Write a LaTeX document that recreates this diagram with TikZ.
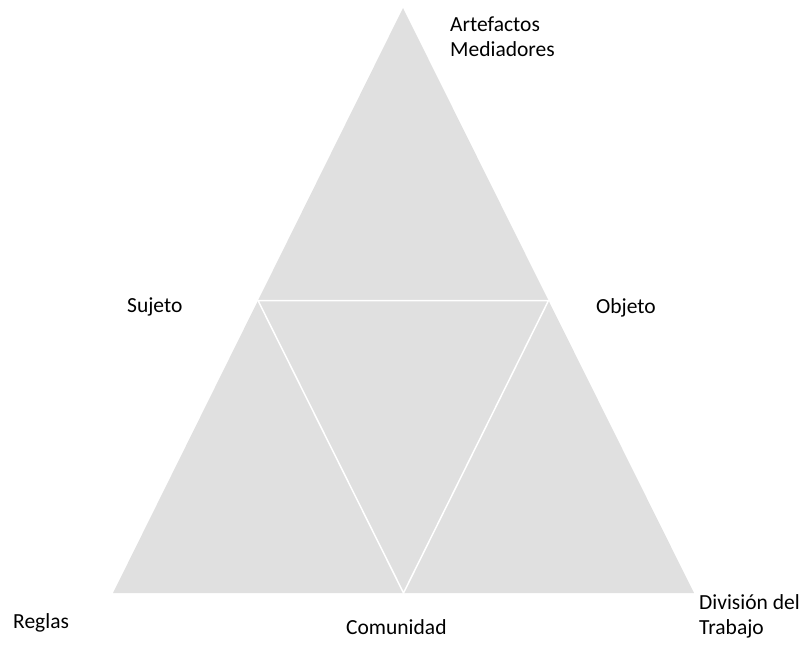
\documentclass[tikz,border=0pt]{standalone}
\usepackage{fontspec}
\setmainfont{Carlito}
\usetikzlibrary{calc}
\definecolor{trifill}{HTML}{E0E0E0}
\tikzset{
  lbl/.style={anchor=base west, inner sep=0pt, align=left, font=\fontsize{21.5}{25}\selectfont},
  split/.style={white, line width=1.5pt}
}

\begin{document}
\begin{tikzpicture}[x=1pt, y=-1pt]
\useasboundingbox (0,0) rectangle (806,647);
\coordinate (Top) at (403,8);
\coordinate (BL) at (113,593);
\coordinate (BR) at (694,593);
\coordinate (ML) at ($(Top)!0.5!(BL)$);
\coordinate (MR) at ($(Top)!0.5!(BR)$);
\coordinate (MB) at ($(BL)!0.5!(BR)$);
\fill[trifill] (Top) -- (BL) -- (BR) -- cycle;
\draw[split] (ML) -- (MR) -- (MB) -- cycle;
\node[lbl] (artefactos) at (450,57) {Artefactos\\Mediadores};
\node[lbl] (sujeto) at (127,312) {Sujeto};
\node[lbl] (objeto) at (596,313) {Objeto};
\node[lbl] (reglas) at (13,628) {Reglas};
\node[lbl] (comunidad) at (346,634) {Comunidad};
\node[lbl] (division) at (699,634) {División del\\Trabajo};
\end{tikzpicture}
\end{document}
